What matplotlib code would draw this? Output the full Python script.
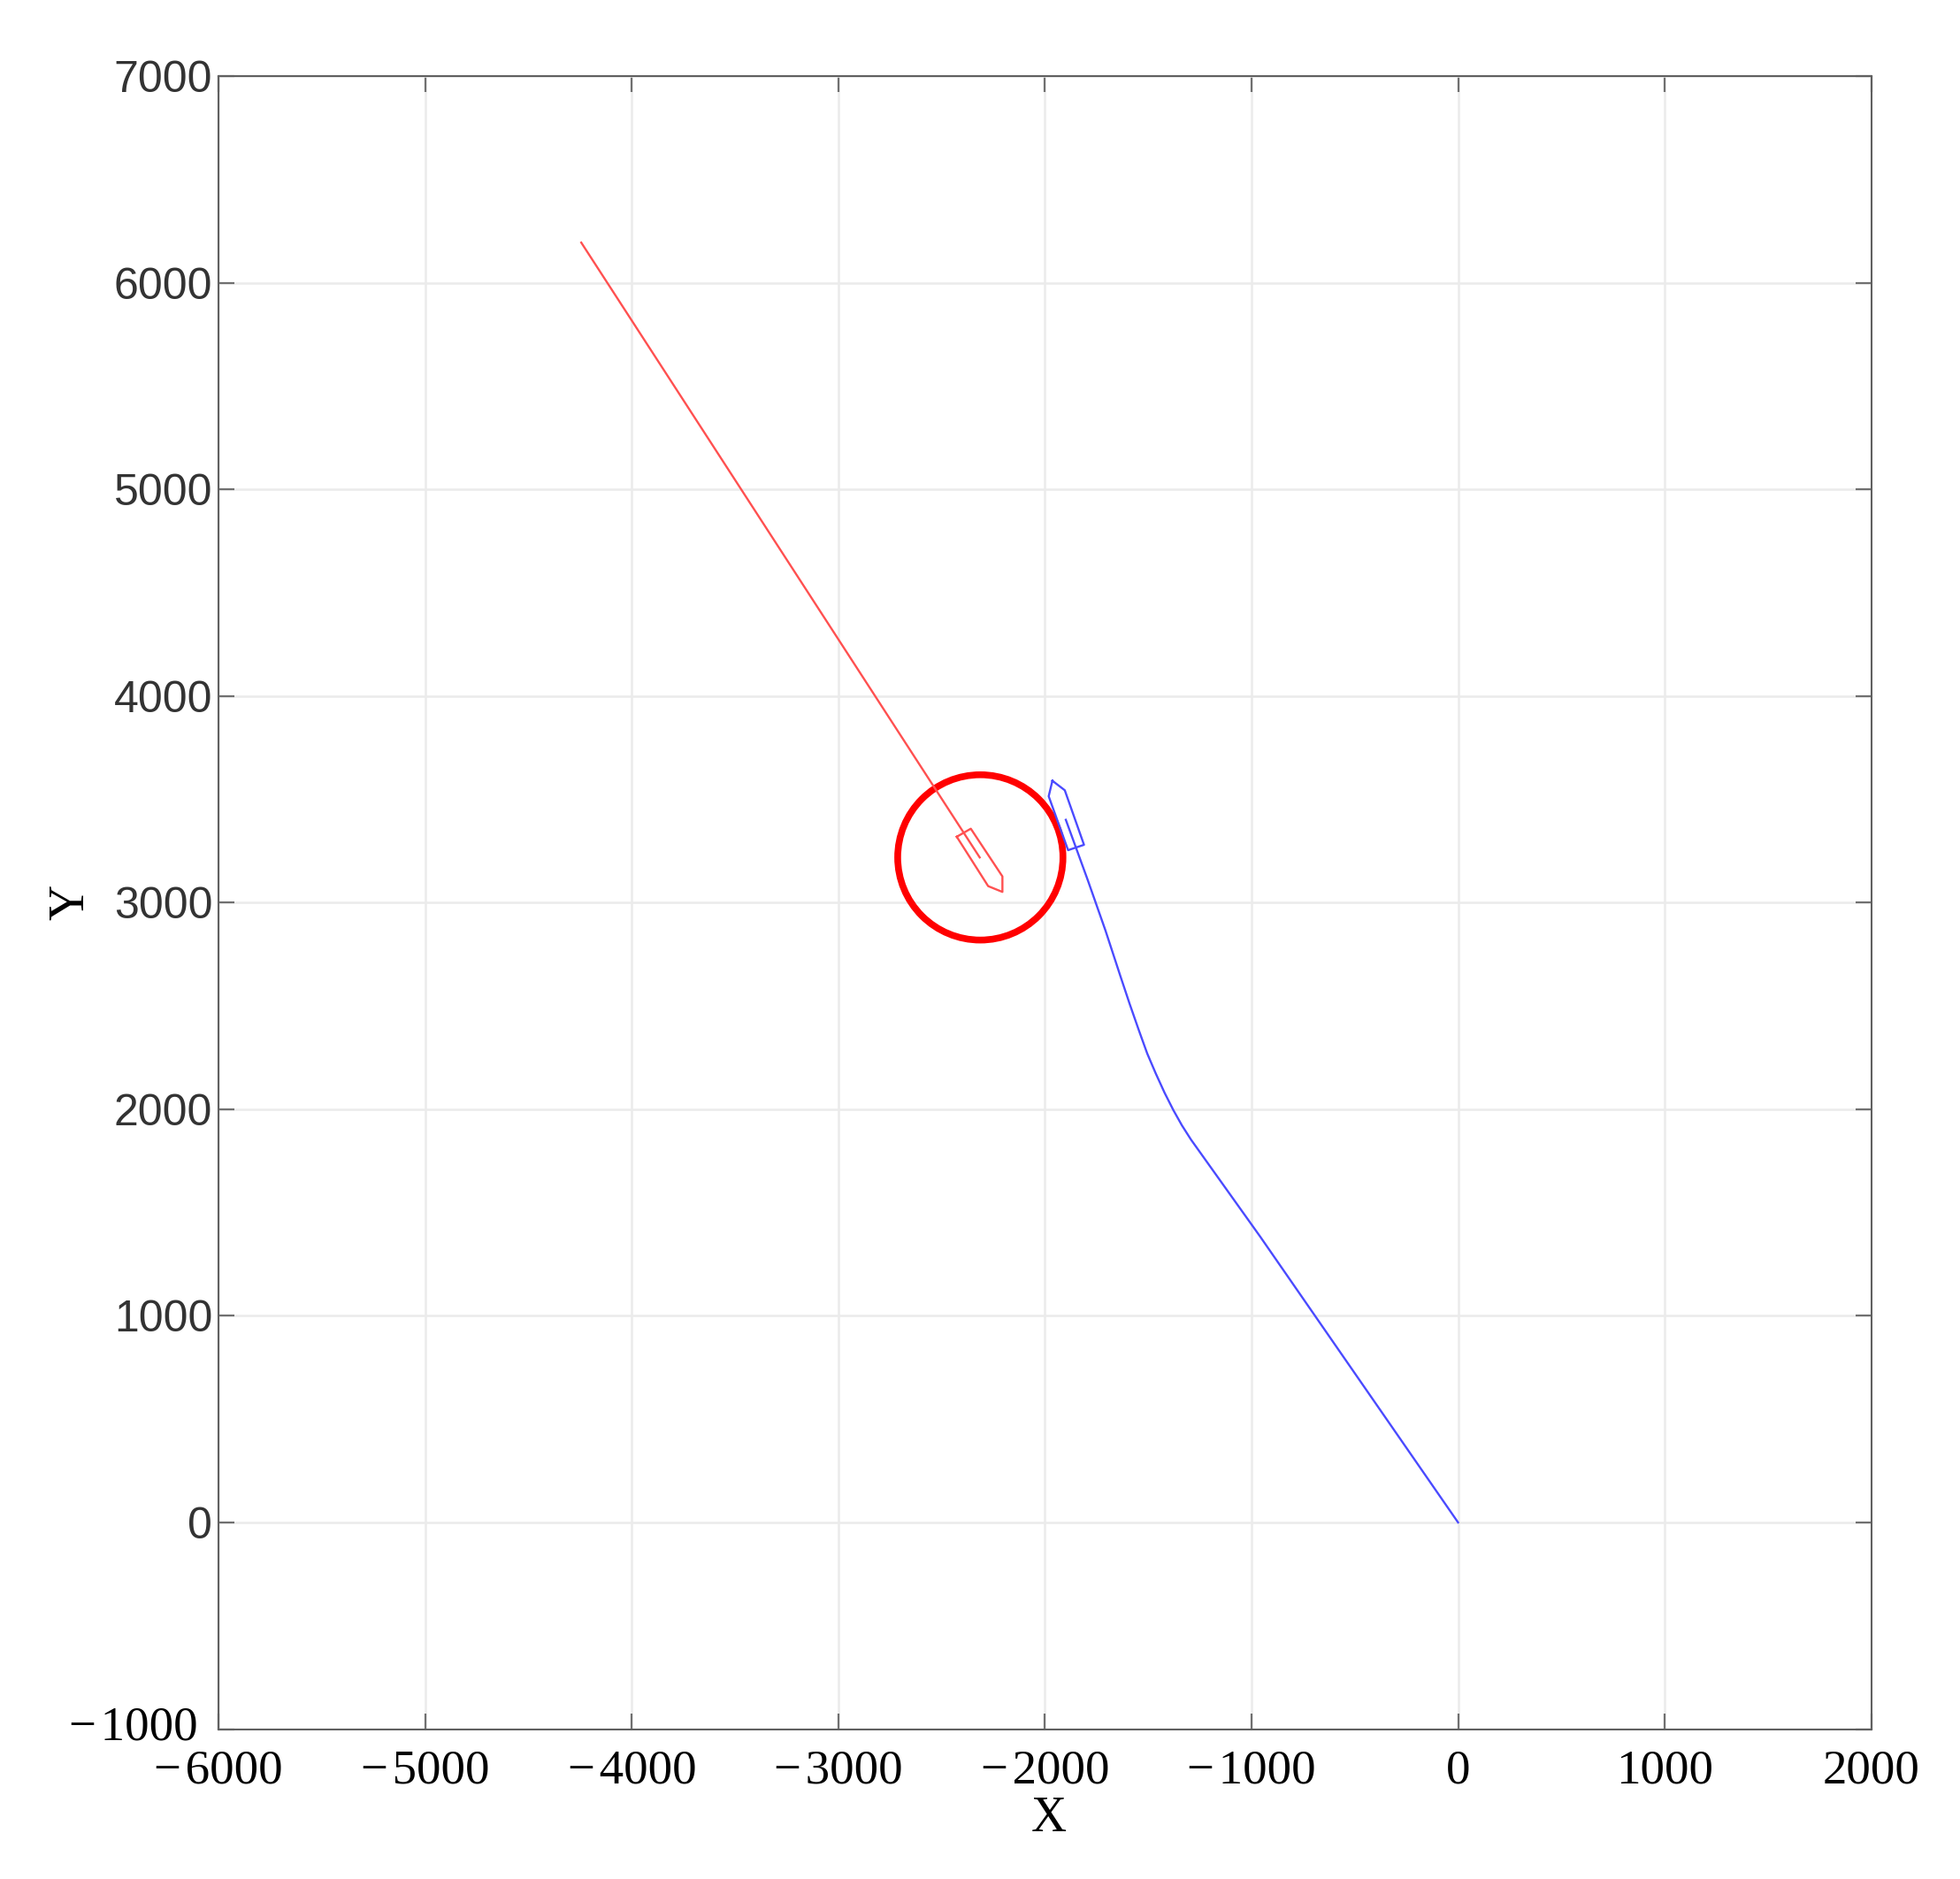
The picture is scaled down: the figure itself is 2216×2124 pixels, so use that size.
import numpy as np
import matplotlib
matplotlib.use("Agg")
import matplotlib.pyplot as plt
from matplotlib.patches import Circle
from matplotlib.transforms import ScaledTranslation

# track of the blue ship, from the origin to the ship
blue_x = [0, -957, -1293, -1337, -1378, -1421, -1464, -1505, -1545, -1590, -1635, -1707, -1792, -1899]
blue_y = [0, 1382, 1853, 1922, 1995, 2080, 2174, 2270, 2381, 2510, 2645, 2865, 3107, 3401]
# outline of the blue ship
blue_ship_x = [-1964, -1904, -1811, -1888, -1982, -1964]
blue_ship_y = [3590, 3544, 3280, 3254, 3515, 3590]

# track of the red ship
red_x = [-4245, -2316]
red_y = [6195, 3219]
# outline of the red ship
red_ship_x = [-2427, -2359, -2206, -2206, -2275, -2427]
red_ship_y = [3319, 3358, 3127, 3052, 3080, 3319]

# safety circle around the red ship
circle_x = -2313
circle_y = 3219
circle_r = 400

x_ticks = [-6000, -5000, -4000, -3000, -2000, -1000, 0, 1000, 2000]
y_ticks = [-1000, 0, 1000, 2000, 3000, 4000, 5000, 6000, 7000]

W, H = 2216, 2124
fig = plt.figure(figsize=(W / 100, H / 100), dpi=100)
ax = fig.add_axes([247.3 / W, 1 - 1954.5 / H, (2115.6 - 247.3) / W, (1954.5 - 86.2) / H])

ax.plot(blue_x, blue_y, color="#4a4aff", lw=1.7)
ax.plot(blue_ship_x, blue_ship_y, color="#4a4aff", lw=1.7)
ax.plot(red_x, red_y, color="#ff5050", lw=1.7)
ax.plot(red_ship_x, red_ship_y, color="#ff5050", lw=1.7)
ax.add_patch(Circle((circle_x, circle_y), circle_r, fill=False, edgecolor="#ff0000", lw=5.5))

ax.set_xlim(-6000, 2000)
ax.set_ylim(-1000, 7000)
ax.set_xticks(x_ticks)
ax.set_yticks(y_ticks)
ax.set_xticklabels([str(v).replace("-", "\u2212\u200a") for v in x_ticks],
                   family="Liberation Serif", fontsize=39.5, color="black")
ax.set_yticklabels([str(v).replace("-", "\u2212\u200a") for v in y_ticks],
                   family="Liberation Sans", fontsize=36, color="#333333")

ax.grid(True, color="#ebebeb", lw=1.8)
ax.set_axisbelow(True)
ax.tick_params(axis="both", direction="in", length=13, width=1.6, color="#707070",
               top=True, right=True)
ax.tick_params(axis="x", pad=16)
ax.tick_params(axis="y", pad=5)
for s in ax.spines.values():
    s.set_color("#606060")
    s.set_linewidth(1.5)

# the -1000 label is in the serif font, further left and a little higher
low = ax.yaxis.get_major_ticks()[0]
low.set_pad(17)
low.label1.set_family("Liberation Serif")
low.label1.set_fontsize(39.5)
low.label1.set_color("black")
low.label1.set_transform(low.label1.get_transform() + ScaledTranslation(0, 5 / 72, fig.dpi_scale_trans))

ax.set_xlabel("X", family="Liberation Serif", fontsize=40, color="black")
ax.set_ylabel("Y", family="Liberation Serif", fontsize=40, color="black")
ax.xaxis.set_label_coords((839 - 175) / 1322, -(1455 - 1383) / 1322, transform=ax.transAxes)
ax.xaxis.label.set_va("center")
ax.yaxis.set_label_coords(-(175 - 57) / 1322, (1383 - 722) / 1322, transform=ax.transAxes)
ax.yaxis.label.set_va("center")

fig.savefig("out.png", dpi=100, facecolor="white")
